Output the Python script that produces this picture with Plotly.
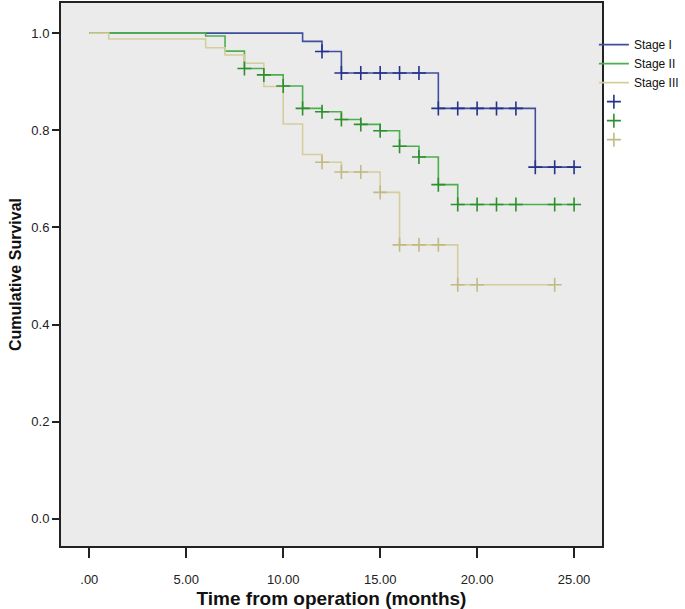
import plotly.graph_objects as go

# ---- data ----
stage_names = ["Stage I", "Stage II", "Stage III"]

stage1_event_times = [11, 12, 13, 18, 23]
stage1_survival = [0.983, 0.962, 0.918, 0.845, 0.724]
stage1_end = 25
stage1_censor_times = [12, 13, 14, 15, 16, 17, 18, 19, 20, 21, 22, 23, 24, 25]

stage2_event_times = [6, 7, 8, 9, 10, 11, 12, 13, 14, 15, 16, 17, 18, 19]
stage2_survival = [0.994, 0.963, 0.927, 0.914, 0.891, 0.845, 0.838, 0.822,
                   0.812, 0.799, 0.767, 0.745, 0.688, 0.647]
stage2_end = 25
stage2_censor_times = [8, 9, 10, 11, 12, 13, 14, 15, 16, 17, 18, 19, 20, 21, 22, 24, 25]

stage3_event_times = [1, 6, 7, 8, 9, 10, 11, 12, 13, 15, 16, 19]
stage3_survival = [0.988, 0.970, 0.955, 0.938, 0.890, 0.813, 0.750, 0.734,
                   0.714, 0.672, 0.564, 0.482]
stage3_end = 24
stage3_censor_times = [12, 13, 14, 15, 16, 17, 18, 19, 20, 24]

x_tick_vals = [0, 5, 10, 15, 20, 25]
x_tick_text = [".00", "5.00", "10.00", "15.00", "20.00", "25.00"]
y_tick_vals = [0.0, 0.2, 0.4, 0.6, 0.8, 1.0]
y_tick_text = ["0.0", "0.2", "0.4", "0.6", "0.8", "1.0"]

line_colors = ["#3F4E9E", "#4DAE4D", "#D5CE9C"]
marker_colors = ["#24338A", "#2F8F2F", "#C2BA86"]

FONT = "Liberation Sans, Arial, sans-serif"


def step_xy(times, surv, end):
    xs = [0] + list(times) + [end]
    ys = [1.0] + list(surv) + [surv[-1]]
    return xs, ys


def surv_at(t, times, surv):
    s = 1.0
    for ti, si in zip(times, surv):
        if ti <= t:
            s = si
    return s


stages = [
    (stage1_event_times, stage1_survival, stage1_end, stage1_censor_times),
    (stage2_event_times, stage2_survival, stage2_end, stage2_censor_times),
    (stage3_event_times, stage3_survival, stage3_end, stage3_censor_times),
]

fig = go.Figure()

# step lines (blue first, beige last, as in the reference)
for i in [0, 1, 2]:
    times, surv, end, _ = stages[i]
    xs, ys = step_xy(times, surv, end)
    fig.add_trace(go.Scatter(
        x=xs, y=ys, mode="lines", line_shape="hv",
        line=dict(color=line_colors[i], width=1.6),
        name=stage_names[i], legendrank=i + 1, hoverinfo="skip",
    ))

# censor marks
for i in [0, 1, 2]:
    times, surv, end, ctimes = stages[i]
    fig.add_trace(go.Scatter(
        x=ctimes, y=[surv_at(t, times, surv) for t in ctimes],
        mode="markers",
        marker=dict(symbol="cross-thin", size=10,
                    line=dict(color=marker_colors[i], width=1.6)),
        name=" ", legendrank=i + 4, hoverinfo="skip",
    ))

fig.update_layout(
    width=685, height=609,
    margin=dict(l=61, r=83, t=3, b=63, autoexpand=False),
    paper_bgcolor="white",
    plot_bgcolor="#EBEBEB",
    font=dict(family=FONT, size=12, color="#222222"),
    showlegend=True,
    legend=dict(x=0.985, xanchor="left", y=0.950, yanchor="top",
                bgcolor="rgba(0,0,0,0)", font=dict(size=12, color="#111111"),
                tracegroupgap=0, itemwidth=30, traceorder="normal"),
    xaxis=dict(
        range=[-1.46, 26.44], tickvals=x_tick_vals, ticktext=x_tick_text,
        showgrid=False, zeroline=False, automargin=False,
        showline=True, linecolor="#222222", linewidth=2, mirror=True,
        ticks="outside", ticklen=10, tickwidth=2, tickcolor="#222222",
        ticklabelstandoff=10,
        tickfont=dict(size=13, color="#222222"),
        title=dict(text="<b>Time from operation (months)</b>",
                   font=dict(size=19, color="#111111"), standoff=7),
    ),
    yaxis=dict(
        range=[-0.056, 1.062], tickvals=y_tick_vals, ticktext=y_tick_text,
        showgrid=False, zeroline=False, automargin=False,
        showline=True, linecolor="#222222", linewidth=2, mirror=True,
        ticks="outside", ticklen=7, tickwidth=2, tickcolor="#222222",
        tickfont=dict(size=13, color="#222222"),
        title=dict(text="<b>Cumulative Survival</b>",
                   font=dict(size=16, color="#111111"), standoff=6),
    ),
)

fig.write_html("out.html",
               config={"displayModeBar": False},
               post_script="document.body.style.margin='0px';")
